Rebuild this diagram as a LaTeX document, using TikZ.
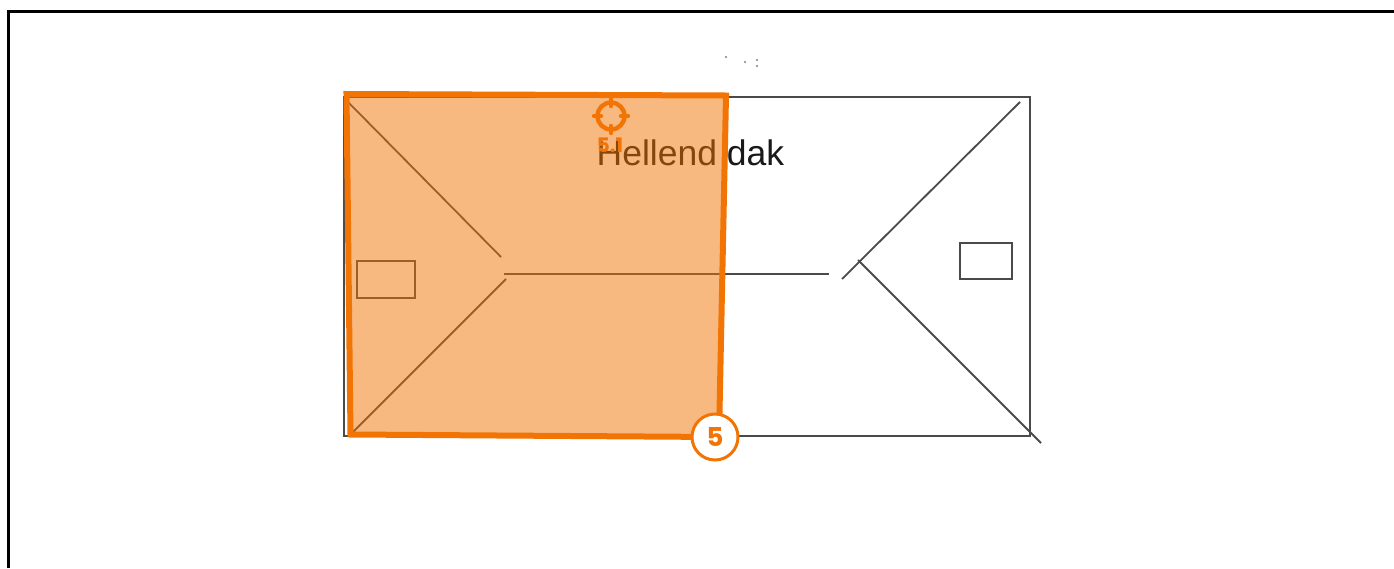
\documentclass[tikz,border=0pt]{standalone}
\usepackage{fontspec}
\setmainfont{Liberation Sans}
\newfontfamily\badgefont{Poppins}
\definecolor{roofline}{HTML}{4A4A4A}
\definecolor{accent}{HTML}{F27405}
\tikzset{
  roof/.style={draw=roofline,line width=1.8pt},
  zone/.style={draw=accent,line width=6pt,fill=accent,fill opacity=.5,draw opacity=1,line join=miter},
  speck/.style={fill=gray,draw=none},
}
\begin{document}
\begin{tikzpicture}[x=1pt,y=-1pt]
\useasboundingbox (0,0) rectangle (1394,568);
\fill[white] (0,0) rectangle (1394,568);
% frame
\draw[black,line width=3pt] (8.5,568) -- (8.5,11.5) -- (1394,11.5);
% specks
\foreach \p in {(726,57),(745,62),(757,60),(757,66)} \fill[speck] \p circle (1.2pt);
% roof plan
\coordinate (tl) at (344,97);
\coordinate (br) at (1030,436);
\draw[roof] (tl) rectangle (br);
\draw[roof] (348,102) -- (501,257);
\draw[roof] (351,434) -- (506,279);
\draw[roof] (504,274) -- (829,274);
\draw[roof] (842,279) -- (1020,102);
\draw[roof] (858,260) -- (1041,443);
\draw[roofline,line width=1.5pt] (357,261) rectangle (415,298);
\draw[roofline,line width=1.5pt] (960,243) rectangle (1012,279);
\node[anchor=base west,inner sep=0pt,text=black!90,font=\fontsize{35.5}{35.5}\selectfont] (title) at (596.5,165) {Hellend dak};
% highlighted zone
\draw[zone] (346.5,94) -- (726,95.5) -- (719,437) -- (350.5,434.5) -- cycle;
% target marker
\coordinate (target) at (611,116);
\draw[accent,line width=4.4pt] (target) circle (13.5pt);
\draw[accent,line width=4.4pt,line cap=round] (594,116) -- (601,116) (621,116) -- (628,116) (611,99) -- (611,106) (611,126) -- (611,133);
\node[inner sep=0pt,text=accent,font=\badgefont\bfseries\fontsize{20}{20}\selectfont] (sub) at (610,145) {5.1};
% badge
\node[circle,draw=accent,line width=3pt,fill=white,minimum size=46pt,inner sep=0pt,text=accent,font=\badgefont\bfseries\fontsize{26}{26}\selectfont] (badge) at (715,437) {5};
\end{tikzpicture}
\end{document}
